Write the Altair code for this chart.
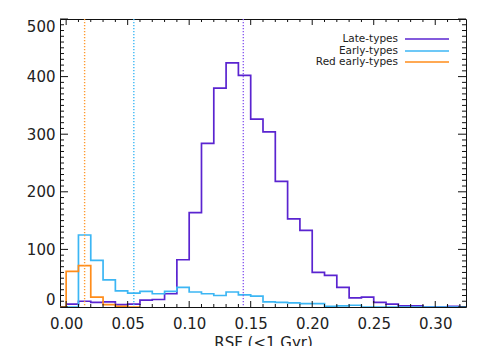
import altair as alt
import numpy as np
import pandas as pd

# ---- data ----
bin_width = 0.01
late_start = 0.00
late_counts = [5, 10, 8, 9, 4, 5, 12, 13, 23, 82, 164, 284, 380, 424, 402, 326,
               304, 218, 153, 133, 60, 55, 34, 16, 17, 8, 5, 2, 2, 0, 0, 1, 0]
early_start = 0.00
early_counts = [0, 125, 81, 47, 28, 24, 27, 23, 27, 34, 26, 23, 20, 26, 21, 19,
                9, 8, 7, 6, 6, 1, 2, 3, 0, 0, 0, 0, 0, 0, 0, 0, 0]
red_start = -0.01
red_counts = [0, 62, 72, 17, 4, 1, 0]

series_names = ["Late-types", "Early-types", "Red early-types"]
series_colors = ["#5a24d0", "#3cb6f4", "#ff8c1a"]
median_values = [0.144, 0.055, 0.015]
median_colors = ["#8a5cf0", "#3cb8f6", "#ff9a30"]

x_major = [0.00, 0.05, 0.10, 0.15, 0.20, 0.25, 0.30]
y_major = [0, 100, 200, 300, 400, 500]

W, H = 406, 288
FONT = "DejaVu Sans"

xscale = alt.Scale(domain=[-0.005, 0.325], nice=False, zero=False)
yscale = alt.Scale(domain=[0, 500], nice=False, zero=False)

xaxis = alt.Axis(values=x_major, format=".2f", labelPadding=9,
                 title="RSF (<1 Gyr)", titlePadding=4, labelFlush=False)
yaxis = alt.Axis(values=y_major, labelPadding=5, title=None, labelFlush=True)


def steps(start, counts, name):
    xs = [round(start + i * bin_width, 4) for i in range(len(counts))]
    xs.append(round(start + len(counts) * bin_width, 4))
    ys = list(counts) + [counts[-1]]
    return pd.DataFrame({"x": xs, "y": ys, "series": name,
                         "order": range(len(xs))})


hist = pd.concat([
    steps(late_start, late_counts, series_names[0]),
    steps(early_start, early_counts, series_names[1]),
    steps(red_start, red_counts, series_names[2]),
])

color_scale = alt.Scale(domain=series_names, range=series_colors)

lines = alt.Chart(hist).mark_line(interpolate="step-after", strokeWidth=1.7,
                                  clip=True).encode(
    x=alt.X("x:Q", scale=xscale, axis=xaxis),
    y=alt.Y("y:Q", scale=yscale, axis=yaxis),
    color=alt.Color("series:N", scale=color_scale, legend=None),
    detail="series:N",
    order="order:Q",
)

med_df = pd.DataFrame({"v": median_values, "c": median_colors})
medians = alt.Chart(med_df).mark_rule(strokeWidth=1.4, strokeDash=[1.2, 1.8]).encode(
    x=alt.X("v:Q", scale=xscale, axis=xaxis),
    color=alt.Color("c:N", scale=None, legend=None),
)

# inward ticks on all four sides
x_minor = [round(v, 2) for v in np.arange(0.0, 0.325, 0.01)]
y_minor = list(range(0, 501, 10))
xt = pd.DataFrame({"v": x_minor})
xt["major"] = [any(abs(v - m) < 1e-9 for m in x_major) for v in x_minor]
yt = pd.DataFrame({"v": y_minor})
yt["major"] = [v % 100 == 0 for v in y_minor]

tick_style = dict(color="#111", strokeWidth=1)


def xticks(df, y0, y1):
    return alt.Chart(df).mark_rule(**tick_style).encode(
        x=alt.X("v:Q", scale=xscale, axis=xaxis),
        y=alt.value(y0), y2=alt.value(y1))


def yticks(df, x0, x1):
    return alt.Chart(df).mark_rule(**tick_style).encode(
        y=alt.Y("v:Q", scale=yscale, axis=yaxis),
        x=alt.value(x0), x2=alt.value(x1))


xmaj, xmin = xt[xt.major], xt[~xt.major]
ymaj, ymin = yt[yt.major], yt[~yt.major]
ticks = [
    xticks(xmaj, H, H - 6), xticks(xmin, H, H - 3),
    xticks(xmaj, 0, 6), xticks(xmin, 0, 3),
    yticks(ymaj, 0, 8), yticks(ymin, 0, 4),
    yticks(ymaj, W, W - 8), yticks(ymin, W, W - 4),
]

# legend (manual, IDL style)
leg_layers = []
leg_y = [20, 32, 43]
for name, col, yy in zip(series_names, series_colors, leg_y):
    leg_layers.append(alt.Chart(pd.DataFrame({"t": [name]})).mark_text(
        align="right", baseline="middle", font=FONT, fontSize=10.5,
        color="#222").encode(text="t:N", x=alt.value(338), y=alt.value(yy)))
    leg_layers.append(alt.Chart(pd.DataFrame({"t": [name]})).mark_rule(
        color=col, strokeWidth=1.5).encode(
        x=alt.value(345), x2=alt.value(389), y=alt.value(yy)))

chart = alt.layer(lines, medians, *ticks, *leg_layers).properties(
    width=W, height=H,
    autosize=alt.AutoSizeParams(type="none"),
    padding={"left": 52, "top": 11, "right": 11, "bottom": 45},
    background="white",
).configure_view(stroke="#111", strokeWidth=1).configure_axis(
    ticks=False, tickSize=0, domain=False, grid=False,
    labelFont=FONT, labelFontSize=15, labelColor="#222",
    titleFont=FONT, titleFontSize=15, titleFontWeight="normal",
    titleColor="#222",
)

chart.save("out.html", embed_options={"renderer": "svg", "actions": False})
